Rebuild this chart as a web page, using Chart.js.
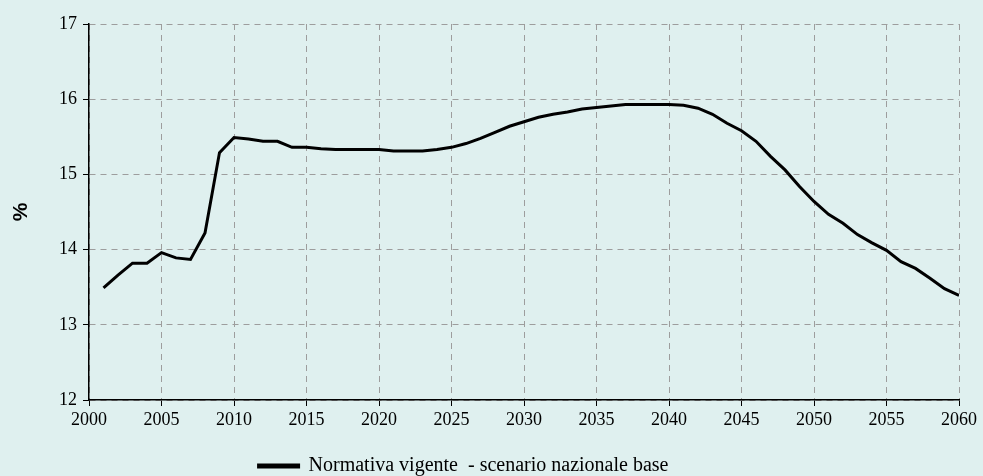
<!DOCTYPE html>
<html>
<head>
<meta charset="utf-8">
<script src="https://cdn.jsdelivr.net/npm/chart.js@4"></script>
<style>
  html, body { margin: 0; padding: 0; background: #dff0ef; }
  #wrap { width: 983px; height: 476px; }
</style>
</head>
<body>
<div id="wrap"><canvas id="grafico"></canvas></div>
<script>
// anni e valori (%)
const anni = [];
for (let a = 2001; a <= 2060; a++) anni.push(a);

const valori = [
  13.49, 13.66, 13.82, 13.82, 13.96, 13.89, 13.87, 14.22, 15.29, 15.49,
  15.47, 15.44, 15.44, 15.36, 15.36, 15.34, 15.33, 15.33, 15.33, 15.33,
  15.31, 15.31, 15.31, 15.33, 15.36, 15.41, 15.48, 15.56, 15.64, 15.70,
  15.76, 15.80, 15.83, 15.87, 15.89, 15.91, 15.93, 15.93, 15.93, 15.93,
  15.92, 15.88, 15.80, 15.68, 15.58, 15.44, 15.24, 15.06, 14.84, 14.64,
  14.47, 14.35, 14.20, 14.09, 13.99, 13.84, 13.75, 13.62, 13.48, 13.39
];

const etichettaSerie = "Normativa vigente  - scenario nazionale base";

const serif = "'Liberation Serif', 'Times New Roman', serif";

// sposta un po' la legenda a sinistra, come nell'originale
const spostaLegenda = {
  id: "spostaLegenda",
  afterLayout(chart) {
    if (chart.legend) {
      chart.legend.left -= 16;
      chart.legend.right -= 16;
    }
  }
};

const ctx = document.getElementById("grafico").getContext("2d");
new Chart(ctx, {
  type: "line",
  data: {
    datasets: [{
      label: etichettaSerie,
      data: anni.map((a, i) => ({ x: a, y: valori[i] })),
      borderColor: "#000",
      backgroundColor: "#000",
      borderWidth: 3,
      pointRadius: 0,
      tension: 0
    }]
  },
  options: {
    responsive: true,
    maintainAspectRatio: false,
    animation: false,
    layout: { padding: { top: 24, right: 24, left: 0, bottom: -10 } },
    plugins: {
      legend: {
        position: "bottom",
        labels: {
          color: "#000",
          font: { family: serif, size: 20 },
          boxWidth: 40,
          boxHeight: 2
        }
      },
      tooltip: { enabled: false }
    },
    scales: {
      x: {
        type: "linear",
        min: 2000,
        max: 2060,
        afterFit: s => { s.height = 46; },
        ticks: {
          stepSize: 5,
          color: "#000",
          padding: 3,
          font: { family: serif, size: 18 },
          callback: v => String(v)
        },
        grid: { color: "#9d9d9d", lineWidth: 1, tickColor: "#000", tickLength: 6 },
        border: { color: "#000", width: 1.5, dash: [6, 5] }
      },
      y: {
        min: 12,
        max: 17,
        afterFit: s => { s.width = 89; },
        ticks: {
          stepSize: 1,
          color: "#000",
          padding: 6,
          font: { family: serif, size: 18 }
        },
        grid: { color: "#9d9d9d", lineWidth: 1, tickColor: "#000", tickLength: 6 },
        border: { color: "#000", width: 1.5, dash: [6, 5] },
        title: {
          display: true,
          text: "%",
          color: "#000",
          font: { family: "'Liberation Sans', Arial, sans-serif", size: 21, weight: "bold" },
          padding: { top: 9, bottom: 0 }
        }
      }
    }
  },
  plugins: [spostaLegenda]
});
</script>
</body>
</html>
